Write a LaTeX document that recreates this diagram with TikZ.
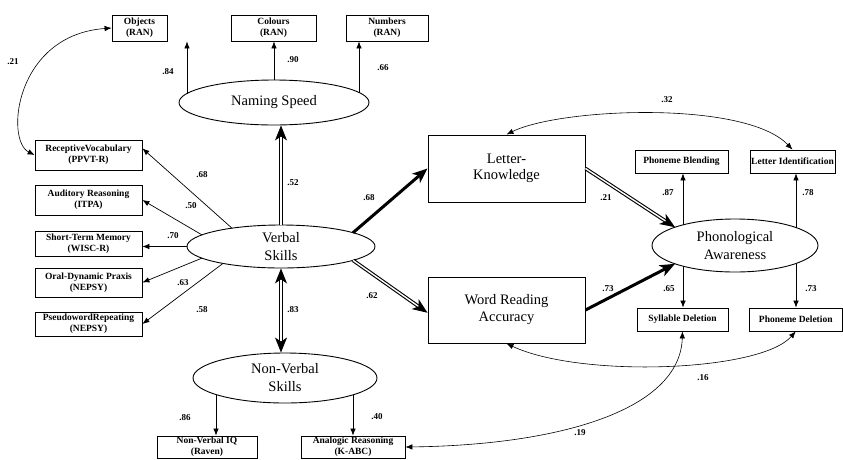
\documentclass[tikz,border=0pt]{standalone}
\usepackage{fontspec}
\setmainfont{Liberation Serif}
\usetikzlibrary{arrows.meta,shapes.geometric,calc}
\begin{document}
\begin{tikzpicture}[x=1pt,y=-1pt,
 sbox/.style={draw, line width=0.8pt, inner sep=0pt, align=center, font=\fontsize{9.5}{11}\selectfont\bfseries},
 lat/.style={draw, ellipse, line width=0.9pt, inner sep=0pt, align=center, font=\fontsize{14.5}{18}\selectfont},
 bbox/.style={draw, line width=1pt, inner sep=0pt, align=center, minimum width=157pt, font=\fontsize{14.5}{17}\selectfont},
 coef/.style={inner sep=0pt, font=\fontsize{9}{10}\selectfont\bfseries},
 load/.style={line width=0.7pt, -{Latex[length=7pt,width=5.5pt]}},
 corr/.style={line width=0.6pt, {Latex[length=7pt,width=5.5pt]}-{Latex[length=7pt,width=5.5pt]}},
 solidpath/.style={line width=3pt, -{Stealth[length=15pt,width=12pt,inset=4pt]}},
 dblpath/.style={double, line width=1.1pt, double distance=1.4pt, -{Stealth[length=15pt,width=12pt,inset=4pt]}},
 dblboth/.style={double, line width=1.1pt, double distance=1.4pt, {Stealth[length=15pt,width=12pt,inset=4pt]}-{Stealth[length=15pt,width=12pt,inset=4pt]}},
]
\useasboundingbox (0,0) rectangle (843,459);

% top indicators
\node[sbox, minimum width=55pt, minimum height=26pt] (obj) at (139.5,28) {Objects\\(RAN)};
\node[sbox, minimum width=85pt, minimum height=26pt] (col) at (273.5,28) {Colours\\(RAN)};
\node[sbox, minimum width=82pt, minimum height=26pt] (num) at (387,28) {Numbers\\(RAN)};
\node[lat, minimum width=190pt, minimum height=45pt] (ns) at (274,102.5) {Naming Speed};

% left indicators
\node[sbox, minimum width=107pt, minimum height=30pt] (rv) at (88.5,155) {ReceptiveVocabulary\\(PPVT-R)};
\node[sbox, minimum width=107pt, minimum height=30pt] (ar) at (88.5,200) {Auditory Reasoning\\(ITPA)};
\node[sbox, minimum width=107pt, minimum height=25pt] (stm) at (88.5,243.5) {Short-Term Memory\\(WISC-R)};
\node[sbox, minimum width=107pt, minimum height=29pt] (odp) at (88.5,282.5) {Oral-Dynamic Praxis\\(NEPSY)};
\node[sbox, minimum width=107pt, minimum height=24pt] (pr) at (88.5,324) {PseudowordRepeating\\(NEPSY)};

\node[lat, minimum width=188pt, minimum height=43pt] (vs) at (281,246.5) {Verbal\\Skills};
\node[lat, minimum width=184pt, minimum height=50pt] (nv) at (285,378) {Non-Verbal\\Skills};
\node[sbox, minimum width=100pt, minimum height=22pt] (nviq) at (207,447) {Non-Verbal IQ\\(Raven)};
\node[sbox, minimum width=104pt, minimum height=22pt] (anr) at (353,447) {Analogic Reasoning\\(K-ABC)};

% right side
\node[bbox, minimum height=67pt, font=\fontsize{14.5}{16}\selectfont] (lk) at (506.5,168.5) {Letter-\\Knowledge};
\node[bbox, minimum height=66pt] (wra) at (506.5,310) {Word Reading\\Accuracy};
\node[lat, minimum width=166pt, minimum height=53pt] (pa) at (735,245.5) {Phonological\\Awareness};
\node[sbox, minimum width=93pt, minimum height=23pt] (pb) at (681.5,161.5) {Phoneme Blending};
\node[sbox, minimum width=85pt, minimum height=23pt] (li) at (792.5,161.5) {Letter Identification};
\node[sbox, minimum width=91pt, minimum height=23pt] (sd) at (682.5,319.5) {Syllable Deletion};
\node[sbox, minimum width=93pt, minimum height=23pt] (pd) at (795.75,319.5) {Phoneme Deletion};

% points on ellipse borders
\coordinate (nsA) at ($(ns.center)+(-87,-9.0)$);
\coordinate (nsC) at ($(ns.center)+(85,-10.0)$);
\coordinate (vsRV) at ($(vs.center)+(-49,-18.3)$);
\coordinate (vsAR) at ($(vs.center)+(-79,-11.6)$);
\coordinate (vsOD) at ($(vs.center)+(-79,11.6)$);
\coordinate (vsPR) at ($(vs.center)+(-58,16.9)$);
\coordinate (vsLK) at ($(vs.center)+(72,-13.8)$);
\coordinate (vsWR) at ($(vs.center)+(72,13.8)$);
\coordinate (nvA) at ($(nv.center)+(-69,16.5)$);
\coordinate (nvB) at ($(nv.center)+(68,16.8)$);
\coordinate (paPB) at ($(pa.center)+(-52,-20.6)$);
\coordinate (paLI) at ($(pa.center)+(61,-18.0)$);
\coordinate (paSD) at ($(pa.center)+(-52,20.6)$);
\coordinate (paPD) at ($(pa.center)+(61,18.0)$);
\coordinate (paLK) at ($(pa.center)+(-60,-18.3)$);
\coordinate (paWR) at ($(pa.center)+(-60,18.3)$);

% loadings: naming speed
\draw[load] (nsA) -- (nsA |- obj.south);
\draw[load] (ns.north) -- (ns.north |- col.south);
\draw[load] (nsC) -- (nsC |- num.south);

% loadings: verbal skills
\draw[load] (vsRV) -- (rv.7);
\draw[load] (vsAR) -- (ar.east);
\draw[load] (vs.west) -- (vs.west -| stm.east);
\draw[load] (vsOD) -- (odp.east);
\draw[load] (vsPR) -- (pr.east);

% loadings: non-verbal
\draw[load] (nvA) -- (nvA |- nviq.north);
\draw[load] (nvB) -- (nvB |- anr.north);

% loadings: phonological awareness
\draw[load] (paPB) -- (paPB |- pb.south);
\draw[load] (paLI) -- (paLI |- li.south);
\draw[load] (paSD) -- (paSD |- sd.north);
\draw[load] (paPD) -- (paPD |- pd.north);

% structural paths
\draw[dblpath] (vs.north) -- (vs.north |- ns.south);
\draw[dblboth] (vs.south) -- (vs.south |- nv.north);
\draw[solidpath] (vsLK) -- (lk.west);
\draw[dblpath] (vsWR) -- (wra.182.2);
\draw[dblpath] (lk.east) -- (paLK);
\draw[solidpath] (wra.east) -- (paWR);

% correlations
\draw[corr] (obj.west) .. controls (15,35) and (5,140) .. (rv.west);
\draw[corr] (lk.north) .. controls (560,108) and (745,100) .. (li.north);
\draw[corr] (wra.south) .. controls (580,378) and (760,372) .. (pd.south);
\draw[corr] (sd.south) .. controls (680,410) and (560,445) .. (anr.east);

% coefficients
\node[coef] (c84) at (168,72) {.84};
\node[coef] (c90) at (293,60) {.90};
\node[coef] (c66) at (383,68) {.66};
\node[coef] (c21a) at (13,62) {.21};
\node[coef] (c68a) at (202,175) {.68};
\node[coef] (c50) at (191,206) {.50};
\node[coef] (c70) at (173,236) {.70};
\node[coef] (c63) at (183,283) {.63};
\node[coef] (c58) at (202,310) {.58};
\node[coef] (c52) at (293,183) {.52};
\node[coef] (c83) at (293,310) {.83};
\node[coef] (c86) at (185,418) {.86};
\node[coef] (c40) at (377,417) {.40};
\node[coef] (c68b) at (369,198) {.68};
\node[coef] (c62) at (372,296) {.62};
\node[coef] (c32) at (667,100) {.32};
\node[coef] (c21b) at (606,198) {.21};
\node[coef] (c73a) at (608,289) {.73};
\node[coef] (c87) at (668,193) {.87};
\node[coef] (c78) at (808,193) {.78};
\node[coef] (c65) at (669,289) {.65};
\node[coef] (c73b) at (811,289) {.73};
\node[coef] (c16) at (703,378) {.16};
\node[coef] (c19) at (580,433) {.19};
\end{tikzpicture}
\end{document}
